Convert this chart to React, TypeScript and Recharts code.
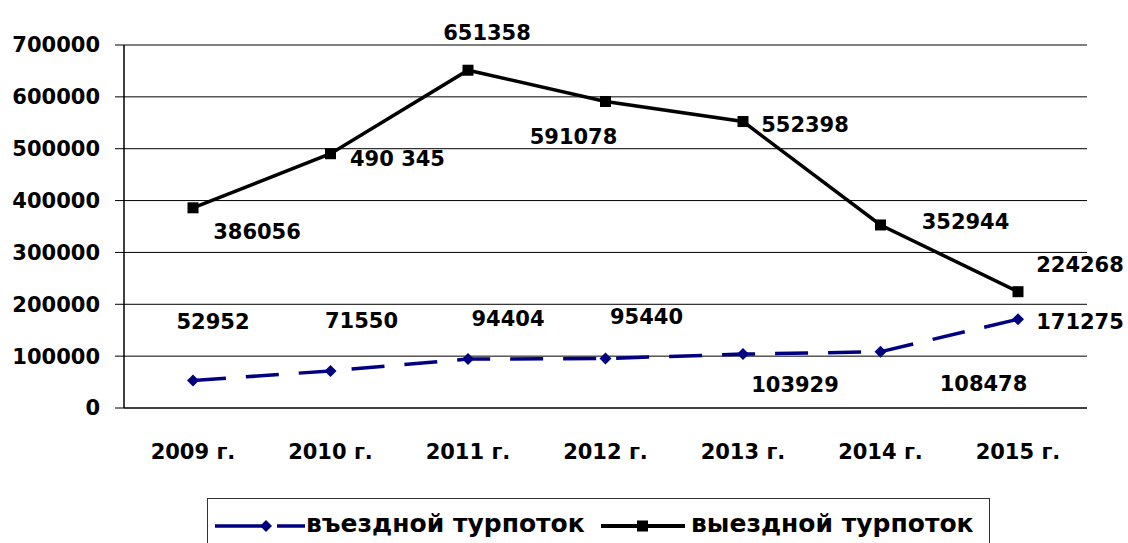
import { LineChart, Line, XAxis, YAxis, CartesianGrid } from "recharts";

const YEARS = ["2009 г.", "2010 г.", "2011 г.", "2012 г.", "2013 г.", "2014 г.", "2015 г."];
const INBOUND = [52952, 71550, 94404, 95440, 103929, 108478, 171275];
const OUTBOUND = [386056, 490345, 651358, 591078, 552398, 352944, 224268];
const OUTBOUND_TEXT = ["386056", "490 345", "651358", "591078", "552398", "352944", "224268"];
const Y_TICKS = [0, 100000, 200000, 300000, 400000, 500000, 600000, 700000];
const SERIES_NAMES = ["въездной турпоток", "выездной турпоток"];

// label offsets relative to each point (center of text)
const OUT_OFFSETS = [[64, 24], [67, 5], [19, -38], [-32, 35], [62, 3], [85, -4], [62, -27]];
const IN_OFFSETS = [[20, -59], [31, -50], [40, -41], [41, -42], [52, 30], [103, 32], [62, 2]];

const FONT = "'DejaVu Sans', Verdana, sans-serif";
const NAVY = "#000080";

const data = YEARS.map((year, i) => ({ year, inbound: INBOUND[i], outbound: OUTBOUND[i] }));

const makeLabel = (offsets: number[][], texts?: string[]) => (props: any) => {
  const { x, y, index, value } = props;
  const [dx, dy] = offsets[index];
  return (
    <text
      x={x + dx}
      y={y + dy}
      dy="0.36em"
      textAnchor="middle"
      fontFamily={FONT}
      fontWeight="bold"
      fontSize={21}
      fill="#000"
    >
      {texts ? texts[index] : value}
    </text>
  );
};

const Diamond = (props: any) => {
  const { cx, cy } = props;
  if (cx == null) return null;
  return <polygon points={`${cx},${cy - 6} ${cx + 6},${cy} ${cx},${cy + 6} ${cx - 6},${cy}`} fill={NAVY} />;
};

const Square = (props: any) => {
  const { cx, cy } = props;
  if (cx == null) return null;
  return <rect x={cx - 5.5} y={cy - 5.5} width={11} height={11} fill="#000" />;
};

export default function App() {
  return (
    <div style={{ position: "absolute", left: 0, top: 0, width: 1128, height: 543, background: "#fff", overflow: "hidden" }}>
      <LineChart width={1128} height={543} data={data} margin={{ top: 45, right: 41, left: 0, bottom: 0 }}>
        <CartesianGrid vertical={false} stroke="#000" strokeWidth={1} />
        <XAxis
          dataKey="year"
          height={135}
          padding={{ left: 69, right: 69 }}
          axisLine={{ stroke: "#000", strokeWidth: 1 }}
          tickLine={false}
          tickSize={0}
          tickMargin={36}
          interval={0}
          tick={{ fontFamily: FONT, fontWeight: "bold", fontSize: 21, fill: "#000" }}
        />
        <YAxis
          width={124}
          domain={[0, 700000]}
          ticks={Y_TICKS}
          interval={0}
          axisLine={{ stroke: "#000", strokeWidth: 1.5 }}
          tickLine={{ stroke: "#000" }}
          tickSize={9}
          tickMargin={15}
          tick={{ fontFamily: FONT, fontWeight: "bold", fontSize: 21, fill: "#000" }}
        />
        <Line
          dataKey="inbound"
          stroke={NAVY}
          strokeWidth={3.5}
          strokeDasharray="33 20"
          dot={<Diamond />}
          activeDot={false}
          label={makeLabel(IN_OFFSETS)}
          isAnimationActive={false}
        />
        <Line
          dataKey="outbound"
          stroke="#000"
          strokeWidth={3.5}
          dot={<Square />}
          activeDot={false}
          label={makeLabel(OUT_OFFSETS, OUTBOUND_TEXT)}
          isAnimationActive={false}
        />
      </LineChart>
      <div
        style={{
          position: "absolute",
          left: 207,
          top: 498,
          width: 783,
          height: 60,
          border: "1.5px solid #333",
          boxSizing: "border-box",
          fontFamily: FONT,
          fontWeight: "bold",
          fontSize: 25,
          color: "#000",
        }}
      >
        <svg width={90} height={20} style={{ position: "absolute", left: 7, top: 17 }}>
          <line x1={0} y1={10} x2={90} y2={10} stroke={NAVY} strokeWidth={3.5} strokeDasharray="50 12 28" />
          <polygon points="51,4 57,10 51,16 45,10" fill={NAVY} />
        </svg>
        <span style={{ position: "absolute", left: 98, top: 10, whiteSpace: "nowrap" }}>{SERIES_NAMES[0]}</span>
        <svg width={84} height={20} style={{ position: "absolute", left: 393, top: 17 }}>
          <line x1={0} y1={10} x2={84} y2={10} stroke="#000" strokeWidth={4} />
          <rect x={36} y={4.5} width={11} height={11} fill="#000" />
        </svg>
        <span style={{ position: "absolute", left: 483, top: 10, whiteSpace: "nowrap" }}>{SERIES_NAMES[1]}</span>
      </div>
    </div>
  );
}
